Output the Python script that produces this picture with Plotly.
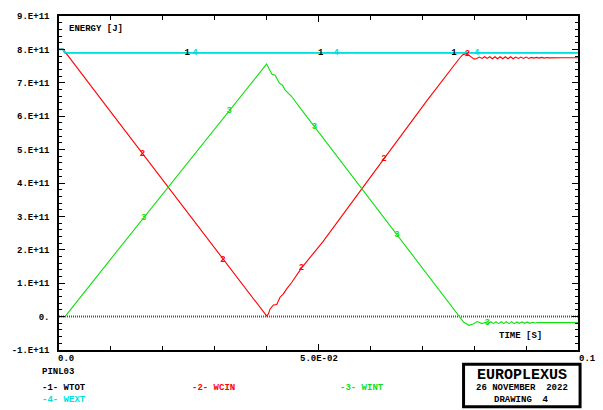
import numpy as np
import plotly.graph_objects as go

# ---------------- data (values in 1e11 J, time in s) ----------------
t_tot = [0.0, 0.0008, 0.0011, 0.1000]
wtot = [8.00, 8.00, 7.90, 7.90]
t_ext = [0.0, 0.0008, 0.0011, 0.1000]
wext = [8.00, 8.00, 7.90, 7.90]

t_cin = [0.0, 0.0008, 0.0100, 0.0200, 0.0300, 0.0380, 0.0390, 0.0396, 0.0400, 0.04035,
         0.04067, 0.04132, 0.04195, 0.04259, 0.04324, 0.04387, 0.04483, 0.04674, 0.0509,
         0.0626, 0.0710, 0.0771, 0.0778, 0.0785, 0.0792, 0.0800, 0.0805,
         0.0810, 0.0815, 0.0820, 0.0825, 0.0830, 0.0835, 0.0840, 0.0845, 0.0850, 0.0855,
         0.0860, 0.0865, 0.0870, 0.0875, 0.0880, 0.0885, 0.0890, 0.0895, 0.0900, 0.0905,
         0.0910, 0.0915, 0.0920, 0.0925, 0.0930, 0.0935, 0.0940, 0.0945, 0.0950, 0.0960,
         0.0970, 0.0980, 0.0990, 0.1000]
wcin = [8.00, 8.00, 6.12, 4.08, 2.04, 0.41, 0.20, 0.08, 0.02, 0.08,
        0.23, 0.35, 0.36, 0.58, 0.68, 0.83, 1.02, 1.46, 2.25,
        4.72, 6.49, 7.72, 7.84, 7.88, 7.80, 7.71, 7.73,
        7.77, 7.73, 7.78, 7.73, 7.78, 7.72, 7.78, 7.72, 7.78, 7.72,
        7.78, 7.72, 7.78, 7.72, 7.77, 7.73, 7.77, 7.73, 7.77, 7.73,
        7.76, 7.74, 7.76, 7.74, 7.76, 7.74, 7.755, 7.745, 7.75, 7.75,
        7.75, 7.75, 7.75, 7.75]

t_int = [0.0, 0.00115, 0.0100, 0.0200, 0.0300, 0.0392, 0.0400, 0.0410, 0.04163, 0.04247,
         0.0431, 0.04354, 0.0442, 0.04483, 0.04693, 0.0550, 0.0650, 0.0740, 0.0770,
         0.0780, 0.0790, 0.0798, 0.0806, 0.0815, 0.0822,
         0.0827, 0.0832, 0.0837, 0.0842, 0.0847, 0.0852, 0.0857, 0.0862, 0.0867, 0.0872,
         0.0877, 0.0882, 0.0887, 0.0892, 0.0897, 0.0902, 0.0907, 0.0912, 0.0917, 0.0922,
         0.0930, 0.0940, 0.0950, 0.0960, 0.0970, 0.0980, 0.0990, 0.1000]
wint = [0.0, 0.0, 1.73, 3.68, 5.63, 7.42, 7.56, 7.26, 7.23, 6.99,
        6.92, 6.79, 6.69, 6.59, 6.15, 4.51, 2.48, 0.65, 0.04,
        -0.17, -0.26, -0.22, -0.15, -0.21, -0.17,
        -0.21, -0.15, -0.21, -0.15, -0.21, -0.15, -0.21, -0.15, -0.21, -0.15,
        -0.21, -0.16, -0.20, -0.16, -0.20, -0.16, -0.20, -0.17, -0.19, -0.18,
        -0.18, -0.18, -0.18, -0.18, -0.18, -0.18, -0.18, -0.18]

# curve-number marker positions (time)
lab1_t = [0.0247, 0.0504, 0.0761]
lab2_t = [0.0161, 0.0316, 0.0467, 0.0626, 0.0787]
lab3_t = [0.0163, 0.0328, 0.0492, 0.0651, 0.0825]
lab4_t = [0.0262, 0.0534, 0.0805]

ytick_vals = [-1, 0, 1, 2, 3, 4, 5, 6, 7, 8, 9]
ytick_text = ["-1.E+11", "0.", "1.E+11", "2.E+11", "3.E+11", "4.E+11", "5.E+11",
              "6.E+11", "7.E+11", "8.E+11", "9.E+11"]
xtick_vals = [0.0, 0.05, 0.1]
xtick_text = ["0.0", "5.0E-02", "0.1"]

RED = "#ff0000"
GREEN = "#11e011"
CYAN = "#00dede"
BLACK = "#000000"
FONT = "Liberation Mono"

E11 = 1e11
sc = lambda arr: [v * E11 for v in arr]

fig = go.Figure()

# zero line (dotted)
fig.add_shape(type="line", xref="paper", x0=0, x1=1, yref="y", y0=0, y1=0,
              line=dict(color="#555555", width=2, dash="1px,1px"), layer="below")

fig.add_trace(go.Scatter(x=t_tot, y=sc(wtot), mode="lines", line=dict(color=BLACK, width=1.2)))
fig.add_trace(go.Scatter(x=t_cin, y=sc(wcin), mode="lines", line=dict(color=RED, width=1.1)))
fig.add_trace(go.Scatter(x=t_int, y=sc(wint), mode="lines", line=dict(color=GREEN, width=1.1)))
fig.add_trace(go.Scatter(x=t_ext, y=sc(wext), mode="lines", line=dict(color=CYAN, width=1.6)))

def labels(ts, tx, ty, txt, color):
    ys = np.interp(ts, tx, ty) * E11
    fig.add_trace(go.Scatter(x=ts, y=ys, mode="text", text=[txt] * len(ts),
                             textposition="middle center",
                             textfont=dict(family=FONT, size=9, color=color, weight="bold")))

labels(lab1_t, t_tot, wtot, "1", BLACK)
labels(lab2_t, t_cin, wcin, "2", RED)
labels(lab3_t, t_int, wint, "3", GREEN)
labels(lab4_t, t_ext, wext, "4", CYAN)

fig.update_layout(
    width=603, height=410,
    margin=dict(l=56, r=25, t=12, b=60),
    paper_bgcolor="white", plot_bgcolor="white",
    showlegend=False,
    font=dict(family=FONT, size=9, color="black", weight="bold"),
)

fig.update_xaxes(range=[0, 0.1], showgrid=False, zeroline=False,
                 showline=True, linecolor="black", linewidth=1.5, mirror="allticks",
                 ticks="inside", ticklen=6, tickcolor="black", tickwidth=1,
                 tickvals=xtick_vals, showticklabels=False,
                 minor=dict(dtick=0.01, tick0=0, ticks="inside", ticklen=4,
                            tickcolor="black", showgrid=False))
fig.update_yaxes(range=[-1 * E11, 9 * E11], showgrid=False, zeroline=False,
                 showline=True, linecolor="black", linewidth=1.5, mirror="allticks",
                 ticks="inside", ticklen=6, tickcolor="black", tickwidth=1,
                 tickvals=[v * E11 for v in ytick_vals], ticktext=ytick_text,
                 ticklabelstandoff=6,
                 tickfont=dict(family=FONT, size=9, color="black", weight="bold"),
                 minor=dict(dtick=0.2 * E11, tick0=0, ticks="inside", ticklen=3,
                            tickcolor="black", showgrid=False))

def ann(text, x, y, xanchor="left", color="black", size=9, xref="paper"):
    fig.add_annotation(text=text, x=x, y=y, xref=xref, yref="paper", showarrow=False,
                       xanchor=xanchor, yanchor="middle", borderpad=0,
                       font=dict(family=FONT, size=size, color=color, weight="bold"))

# x tick labels (placed in paper coordinates, offset like the original)
ann(xtick_text[0], -0.003, -0.028, xanchor="left")
ann(xtick_text[1], 0.5, -0.028, xanchor="center")
ann(xtick_text[2], 1.0005, -0.028, xanchor="left")

ann("ENERGY [J]", 0.018, 0.962)
ann("TIME [S]", 0.846, 0.041)
ann("PINL03", -0.034, -0.066)
ann("-1- WTOT", -0.034, -0.113)
ann("-2- WCIN", 0.255, -0.113, color=RED)
ann("-3- WINT", 0.540, -0.113, color=GREEN)
ann("-4- WEXT", -0.034, -0.150, color=CYAN)

# EUROPLEXUS box
fig.add_shape(type="rect", xref="paper", yref="paper",
              x0=0.7795, x1=1.004, y0=-0.170, y1=-0.043,
              line=dict(color="black", width=3))
ann("EUROPLEXUS", 0.8918, -0.075, xanchor="center", size=15)
ann("26 NOVEMBER  2022", 0.8918, -0.113, xanchor="center")
ann("DRAWING  4", 0.8918, -0.151, xanchor="center")

fig.write_html("out.html")
